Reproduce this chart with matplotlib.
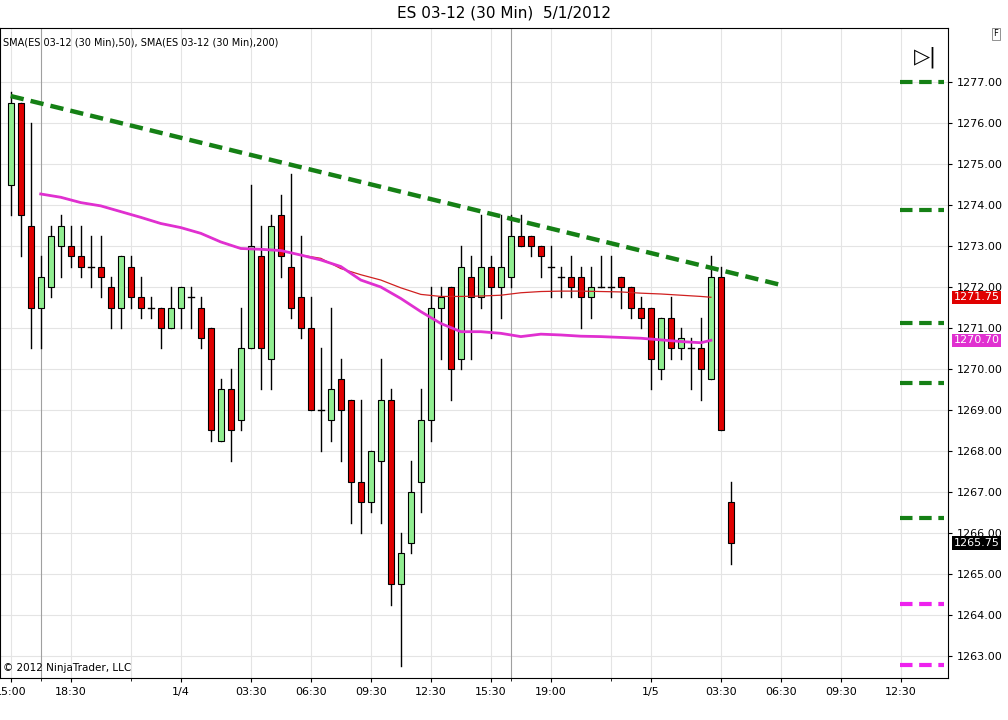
import matplotlib
matplotlib.use("Agg")
import matplotlib.pyplot as plt
from matplotlib.patches import Rectangle

opens  = [1274.5,1276.5,1273.5,1271.5,1272,1273,1273,1272.75,1272.5,1272.5,1272,1271.5,1272.5,1271.75,1271.5,1271.5,1271,1271.5,1271.75,1271.5,
          1271,1268.25,1269.5,1268.75,1270.5,1272.75,1270.25,1273.75,1272.5,1271.75,1271,1269,1268.75,1269.75,1269.25,1267.25,1266.75,1267.75,1269.25,1264.75,
          1265.75,1267.25,1268.75,1271.5,1272,1270.25,1272.25,1271.75,1272.5,1272,1272.25,1273.25,1273.25,1273,1272.5,1272.25,1272.25,1272.25,1271.75,1272,
          1272,1272.25,1272,1271.5,1271.5,1270,1271.25,1270.5,1270.5,1270.5,1269.75,1272.25,1266.75]
highs  = [1276.75,1276.5,1276,1272.75,1273.5,1273.75,1273.5,1273.5,1273.25,1273.25,1272.25,1272.75,1272.75,1272.25,1271.75,1271.5,1272,1272,1272,1271.75,
          1271,1269.75,1270,1271.5,1274.5,1273.5,1273.75,1274.25,1274.75,1273.25,1271.75,1270.5,1271.5,1270.25,1269.25,1269.25,1268,1270.25,1269.5,1266,
          1267.75,1269.5,1272,1272,1272,1273,1272.75,1273.75,1272.75,1273.75,1273.75,1273.75,1273.25,1273,1273,1272.5,1272.75,1272.5,1272.5,1272.75,
          1272.75,1272.25,1272,1271.75,1271.5,1271.25,1271.75,1271,1270.75,1271.25,1272.75,1272.5,1267.25]
lows   = [1273.75,1272.75,1270.5,1270.5,1271.75,1272.25,1272.5,1272.25,1272,1271.75,1271,1271,1271.5,1271.25,1271.25,1270.5,1271,1271,1271,1270.5,
          1268.25,1268.25,1267.75,1268.5,1270.5,1269.5,1269.5,1272.25,1271.25,1270.75,1269,1268,1268.25,1267.75,1266.25,1266,1266.5,1266.25,1264.25,1262.75,
          1265.5,1266.5,1268.25,1270.25,1269.25,1270,1270.25,1271.5,1270.75,1271.25,1272,1273,1272.75,1272.25,1271.75,1271.75,1271.75,1271,1271.25,1272,
          1271.75,1271.5,1271.25,1271,1269.5,1269.75,1270.25,1270.25,1269.5,1269.25,1269.75,1268.5,1265.25]
closes = [1276.5,1273.75,1271.5,1272.25,1273.25,1273.5,1272.75,1272.5,1272.5,1272.25,1271.5,1272.75,1271.75,1271.5,1271.5,1271,1271.5,1272,1271.75,1270.75,
          1268.5,1269.5,1268.5,1270.5,1273,1270.5,1273.5,1272.75,1271.5,1271,1269,1269,1269.5,1269,1267.25,1266.75,1268,1269.25,1264.75,1265.5,
          1267,1268.75,1271.5,1271.75,1270,1272.5,1271.75,1272.5,1272,1272.5,1273.25,1273,1273,1272.75,1272.5,1272.25,1272,1271.75,1272,1272,
          1272,1272,1271.5,1271.25,1270.25,1271.25,1270.5,1270.75,1270.5,1270,1272.25,1268.5,1265.75]

sma_idx = [3,5,7,9,11,13,15,17,19,21,23,25,27,29,31,33,35,37,39,41,43,45,47,49,51,53,55,57,59,61,63,65,67,69,70]
sma50   = [1274.27,1274.19,1274.06,1273.98,1273.84,1273.7,1273.55,1273.45,1273.31,1273.1,1272.94,1272.92,1272.89,1272.78,1272.66,1272.5,1272.17,1272.0,1271.72,1271.4,
           1271.11,1270.91,1270.91,1270.87,1270.79,1270.85,1270.83,1270.8,1270.79,1270.77,1270.75,1270.71,1270.67,1270.64,1270.7]
sma200  = [1274.27,1274.19,1274.06,1273.98,1273.84,1273.7,1273.55,1273.45,1273.31,1273.1,1272.94,1272.92,1272.89,1272.78,1272.7,1272.45,1272.3,1272.17,1271.98,1271.82,
           1271.77,1271.77,1271.78,1271.8,1271.86,1271.89,1271.9,1271.9,1271.89,1271.88,1271.85,1271.83,1271.8,1271.77,1271.75]

trend_x = [0, 77]
trend_y = [1276.66, 1272.05]
green_levels = [1277.0, 1273.88, 1271.12, 1269.66, 1266.37]
magenta_levels = [1264.27, 1262.78]

tick_pos = [0, 6, 17, 24, 30, 36, 42, 48, 54, 64, 71, 77, 83, 89]
tick_lbl = ["15:00", "18:30", "1/4", "03:30", "06:30", "09:30", "12:30", "15:30", "19:00", "1/5", "03:30", "06:30", "09:30", "12:30"]
minor_pos = [3, 12, 50, 60]
dark_grid = [3, 50]

fig = plt.figure(figsize=(10.08, 7.2), dpi=100)
ax = fig.add_axes([0.0, 1 - 678/720, 948/1008, 650/720])
ax.set_xlim(-1.07, 93.7)
ax.set_ylim(1262.46, 1278.32)

for p in range(1263, 1278):
    ax.axhline(p, color="#e4e4e4", lw=0.8, zorder=0)
for t in tick_pos + minor_pos:
    ax.axvline(t, color="#a0a0a0" if t in dark_grid else "#e4e4e4", lw=0.8, zorder=0)

w = 0.6
for i, (o, h, l, c) in enumerate(zip(opens, highs, lows, closes)):
    ax.plot([i, i], [l, h], color="black", lw=1, zorder=2)
    if c == o:
        ax.plot([i - w/2, i + w/2], [o, o], color="black", lw=1, zorder=3)
        continue
    col = "#90ee90" if c > o else "#e00000"
    ax.add_patch(Rectangle((i - w/2, min(o, c)), w, abs(c - o), facecolor=col,
                           edgecolor="black", lw=0.8, zorder=3))

ax.plot(sma_idx, sma200, color="#d02020", lw=0.9, zorder=4)
ax.plot(sma_idx, sma50, color="#e030d0", lw=2, zorder=4)
ax.plot(trend_x, trend_y, color="#158015", lw=3.2, ls=(0, (3, 1.6)), zorder=5)
for lv in green_levels:
    ax.plot([88.9, 93.3], [lv, lv], color="#158015", lw=3, ls=(0, (3, 1.6)), zorder=5)
for lv in magenta_levels:
    ax.plot([88.9, 93.3], [lv, lv], color="#ee22ee", lw=3, ls=(0, (3, 1.6)), zorder=5)

ax.yaxis.tick_right()
ax.set_yticks(range(1263, 1278))
ax.set_yticklabels([f"{v:.2f}" for v in range(1263, 1278)], fontsize=8)
ax.set_xticks(tick_pos)
ax.set_xticklabels(tick_lbl, fontsize=8)
ax.set_xticks(minor_pos, minor=True)
ax.tick_params(length=3, color="black")
for s in ax.spines.values():
    s.set_color("black"); s.set_linewidth(0.8)

def tag(v, txt, bg):
    ax.annotate(txt, xy=(1.0, v), xycoords=("axes fraction", "data"), xytext=(4, 0),
                textcoords="offset points", va="center", ha="left", fontsize=8, color="white",
                bbox=dict(boxstyle="square,pad=0.15", fc=bg, ec="none"), annotation_clip=False)
tag(1271.75, "1271.75", "#e00000")
tag(1270.70, "1270.70", "#e030d0")
tag(1265.75, "1265.75", "black")

fig.text(0.5, 1 - 13/720, "ES 03-12 (30 Min)  5/1/2012", ha="center", va="center", fontsize=11)
ax.text(0.003, 0.985, "SMA(ES 03-12 (30 Min),50), SMA(ES 03-12 (30 Min),200)",
        transform=ax.transAxes, fontsize=7, va="top", ha="left")
ax.text(0.003, 0.008, "© 2012 NinjaTrader, LLC", transform=ax.transAxes, fontsize=7.5, va="bottom", ha="left")
ax.text(0.976, 0.955, "▷|", transform=ax.transAxes, fontsize=15, ha="center", va="center")
fig.text(1 - 12/1008, 1 - 34/720, "F", fontsize=6, ha="center", va="center",
         bbox=dict(boxstyle="square,pad=0.2", fc="white", ec="gray", lw=0.6))

fig.savefig("out.png", dpi=100)
